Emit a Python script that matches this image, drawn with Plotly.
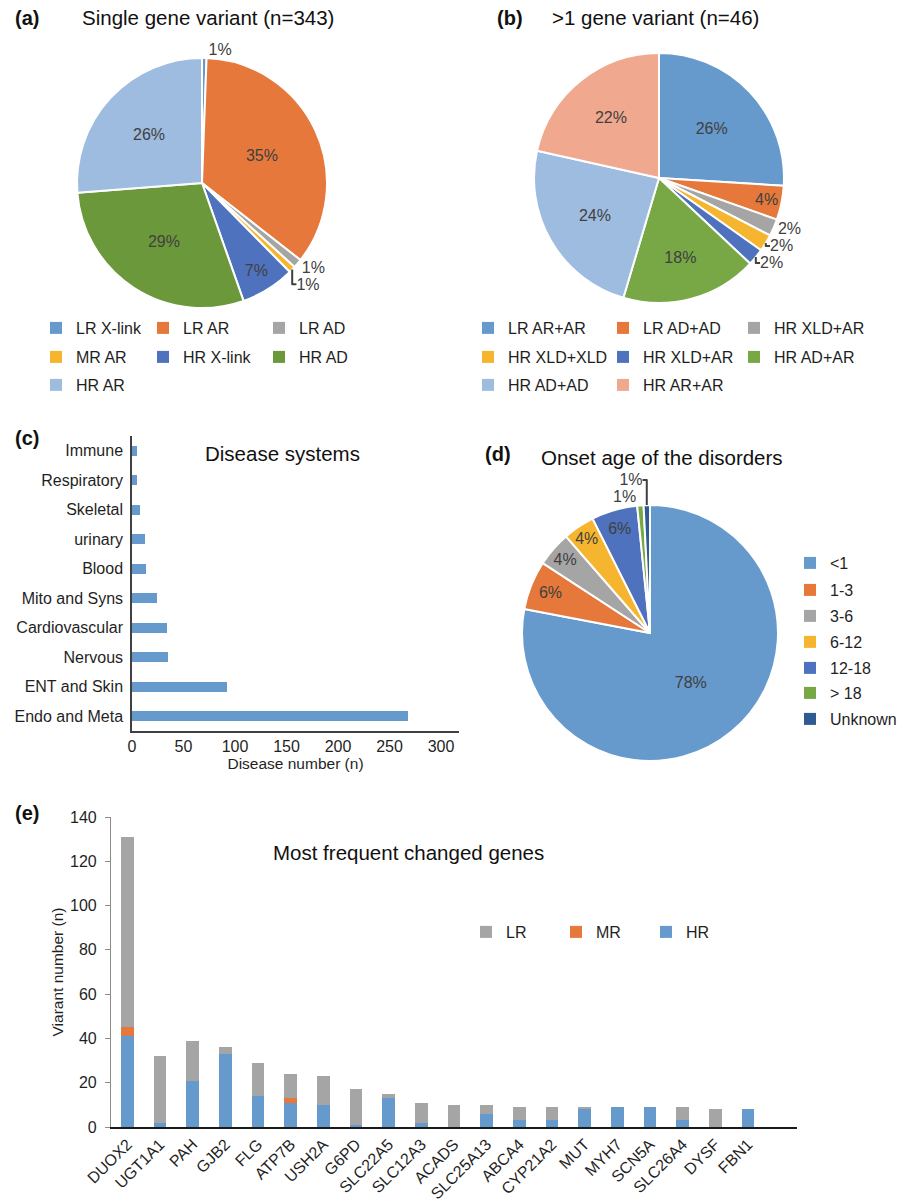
import plotly.graph_objects as go

W, H = 908, 1201
FONT = "Liberation Sans, Arial, sans-serif"
TXT = "#1f1f1f"
LBL = "#404040"

# ---------------- data ----------------
a_labels = ["LR X-link", "LR AR", "LR AD", "MR AR", "HR X-link", "HR AD", "HR AR"]
a_values = [2, 120, 4, 3, 24, 100, 90]

b_labels = ["LR AR+AR", "LR AD+AD", "HR XLD+AR", "HR XLD+XLD", "HR XLD+AR",
            "HR AD+AR", "HR AD+AD", "HR AR+AR"]
b_values = [26.0, 4.4, 2.2, 2.2, 2.2, 17.6, 23.9, 21.5]

c_systems = ["Immune", "Respiratory", "Skeletal", "urinary", "Blood", "Mito and Syns",
             "Cardiovascular", "Nervous", "ENT and Skin", "Endo and Meta"]
c_counts = [5, 5, 8, 13, 14, 24, 34, 35, 92, 268]
c_ticks = [0, 50, 100, 150, 200, 250, 300]

d_labels = ["<1", "1-3", "3-6", "6-12", "12-18", "> 18", "Unknown"]
d_values = [78.0, 6.2, 4.4, 4.0, 5.8, 0.8, 0.8]

e_genes = ["DUOX2", "UGT1A1", "PAH", "GJB2", "FLG", "ATP7B", "USH2A", "G6PD", "SLC22A5",
           "SLC12A3", "ACADS", "SLC25A13", "ABCA4", "CYP21A2", "MUT", "MYH7", "SCN5A",
           "SLC26A4", "DYSF", "FBN1"]
e_hr = [41, 2, 21, 33, 14, 11, 10, 1, 13, 2, 0, 6, 3, 3, 8, 9, 9, 3, 0, 8]
e_mr = [4, 0, 0, 0, 0, 2, 0, 0, 0, 0, 0, 0, 0, 0, 0, 0, 0, 0, 0, 0]
e_lr = [86, 30, 18, 3, 15, 11, 13, 16, 2, 9, 10, 4, 6, 6, 1, 0, 0, 6, 8, 0]
e_yticks = [0, 20, 40, 60, 80, 100, 120, 140]

# ---------------- styles ----------------
BLUE = "#6699CC"
ORANGE = "#E5783A"
GRAY = "#A5A5A5"
GOLD = "#F6B52E"
DBLUE = "#4E72BE"
GREEN_A = "#6A983A"
GREEN = "#77A845"
LBLUE = "#9DBCDF"
SALMON = "#F0A88E"
NAVY = "#305A92"

a_colors = [BLUE, ORANGE, GRAY, GOLD, DBLUE, GREEN_A, LBLUE]
b_colors = [BLUE, ORANGE, GRAY, GOLD, DBLUE, GREEN, LBLUE, SALMON]
d_colors = [BLUE, ORANGE, GRAY, GOLD, DBLUE, GREEN, NAVY]

a_textpos = ["outside", "inside", "outside", "outside", "inside", "inside", "inside"]
b_textpos = ["inside", "inside", "outside", "outside", "outside", "inside", "inside", "inside"]
d_textpos = ["inside"] * 5 + ["outside"] * 2


def px_dom_x(x0, x1):
    return [x0 / W, x1 / W]


def px_dom_y(y0, y1):
    return [1 - y1 / H, 1 - y0 / H]


fig = go.Figure()


def add_pie(labels, values, colors, textpos, cx, cy, r):
    fig.add_trace(go.Pie(
        labels=[f"{i + 1}. {l}" for i, l in enumerate(labels)],
        values=values, sort=False, direction="clockwise", rotation=0,
        marker=dict(colors=colors, line=dict(color="white", width=2)),
        texttemplate="%{percent:.0%}", textposition=textpos,
        insidetextorientation="horizontal",
        insidetextfont=dict(size=16, color=LBL, family=FONT),
        outsidetextfont=dict(size=16, color=LBL, family=FONT),
        domain=dict(x=px_dom_x(cx - r, cx + r), y=px_dom_y(cy - r, cy + r)),
        showlegend=False, hoverinfo="label+percent", automargin=False,
    ))


add_pie(a_labels, a_values, a_colors, a_textpos, 202, 183, 125)
add_pie(b_labels, b_values, b_colors, b_textpos, 659, 178, 125)
add_pie(d_labels, d_values, d_colors, d_textpos, 650, 633, 128)

# (c) horizontal bar
fig.add_trace(go.Bar(y=c_systems, x=c_counts, orientation="h", marker=dict(color=BLUE, line=dict(width=0)),
                     width=0.34, xaxis="x", yaxis="y", showlegend=False))

# (e) stacked bars
for name, vals, col in [("HR", e_hr, BLUE), ("MR", e_mr, ORANGE), ("LR", e_lr, GRAY)]:
    fig.add_trace(go.Bar(x=e_genes, y=vals, name=name, marker=dict(color=col, line=dict(width=0)),
                         width=0.38, xaxis="x2", yaxis="y2", legend="legend"))

# legend entries (one small legend per entry to reproduce the grid layout)
a_leg_pos = [(73, 328), (180, 328), (296, 328), (73, 357), (180, 357), (296, 357), (73, 385)]
b_leg_pos = [(505, 328), (640, 328), (771, 328), (505, 357), (640, 357), (771, 357), (505, 385), (640, 385)]
d_leg_pos = [(827, 563), (827, 590), (827, 616), (827, 642), (827, 668), (827, 693), (827, 719)]

legend_layouts = {}
k = 2
for labels, colors, poss in [(a_labels, a_colors, a_leg_pos), (b_labels, b_colors, b_leg_pos),
                             (d_labels, d_colors, d_leg_pos)]:
    for name, col, (tx, ty) in zip(labels, colors, poss):
        lid = f"legend{k}"
        k += 1
        fig.add_trace(go.Scatter(x=[None], y=[None], mode="markers", name=name,
                                 marker=dict(symbol="square", size=12, color=col),
                                 xaxis="x3", yaxis="y3", legend=lid, hoverinfo="skip", showlegend=True))
        legend_layouts[lid] = dict(x=(tx - 37) / W, y=1 - ty / H, xanchor="left", yanchor="middle",
                                   orientation="v", bgcolor="rgba(0,0,0,0)", borderwidth=0,
                                   font=dict(size=16, family=FONT, color=TXT))

fig.update_layout(**legend_layouts)

axis_font = dict(size=16, family=FONT, color=TXT)

fig.update_layout(
    width=W, height=H, margin=dict(l=0, r=0, t=0, b=0, autoexpand=False),
    paper_bgcolor="white", plot_bgcolor="white",
    font=dict(family=FONT, color=TXT),
    barmode="stack",
    xaxis=dict(domain=px_dom_x(132, 459), range=[0, 317.5], tickvals=c_ticks, anchor="y",
               showgrid=False, zeroline=False, showline=True, linecolor="#404040", linewidth=1.5,
               ticks="", tickfont=axis_font, automargin=False,
               title=dict(text="Disease number (n)", font=dict(size=15.5, family=FONT, color=TXT), standoff=4)),
    yaxis=dict(domain=px_dom_y(436, 731), type="category", range=[9.5, -0.5], anchor="x",
               showgrid=False, zeroline=False, showline=True, linecolor="#404040", linewidth=1.5,
               ticks="outside", ticklen=4, tickcolor="rgba(0,0,0,0)", tickfont=axis_font, automargin=False),
    xaxis2=dict(domain=px_dom_x(111, 797), range=[-0.5, 20.5], anchor="y2", tickangle=-45,
                showgrid=False, zeroline=False, showline=True, linecolor="#1a1a1a", linewidth=1.5,
                ticks="", tickfont=axis_font, automargin=False),
    yaxis2=dict(domain=px_dom_y(817, 1127), range=[0, 140], tickvals=e_yticks, anchor="x2",
                showgrid=False, zeroline=False, showline=True, linecolor="#8c8c8c", linewidth=1.2,
                ticks="outside", ticklen=5, tickcolor="#8c8c8c", tickfont=axis_font, automargin=False,
                ticklabelstandoff=5,
                title=dict(text="Viarant number (n)", font=dict(size=15.5, family=FONT, color=TXT), standoff=2)),
    xaxis3=dict(domain=[0, 0.01], visible=False, anchor="y3"),
    yaxis3=dict(domain=[0, 0.01], visible=False, anchor="x3"),
    legend=dict(orientation="h", x=(506 - 40) / W, y=1 - 932 / H, xanchor="left", yanchor="middle",
                entrywidth=45, traceorder="reversed", bgcolor="rgba(0,0,0,0)",
                font=dict(size=16, family=FONT, color=TXT)),
)

# titles and panel letters
titles = [
    ("<b>(a)</b>", 27, 18, 20), ("Single gene variant (n=343)", 208, 18, 20.5),
    ("<b>(b)</b>", 510, 18, 20), (">1 gene variant (n=46)", 655, 18, 20.5),
    ("<b>(c)</b>", 27, 438, 20), ("Disease systems", 282, 453, 20.5),
    ("<b>(d)</b>", 498, 454, 20), ("Onset age of the disorders", 662, 457, 20.5),
    ("<b>(e)</b>", 27, 813, 20), ("Most frequent changed genes", 408, 852, 20.5),
]
for text, x, y, s in titles:
    fig.add_annotation(text=text, x=x / W, y=1 - y / H, xref="paper", yref="paper",
                       xanchor="center", yanchor="middle", showarrow=False,
                       font=dict(size=s, family=FONT, color="#111111"))

fig.write_html("out.html")
